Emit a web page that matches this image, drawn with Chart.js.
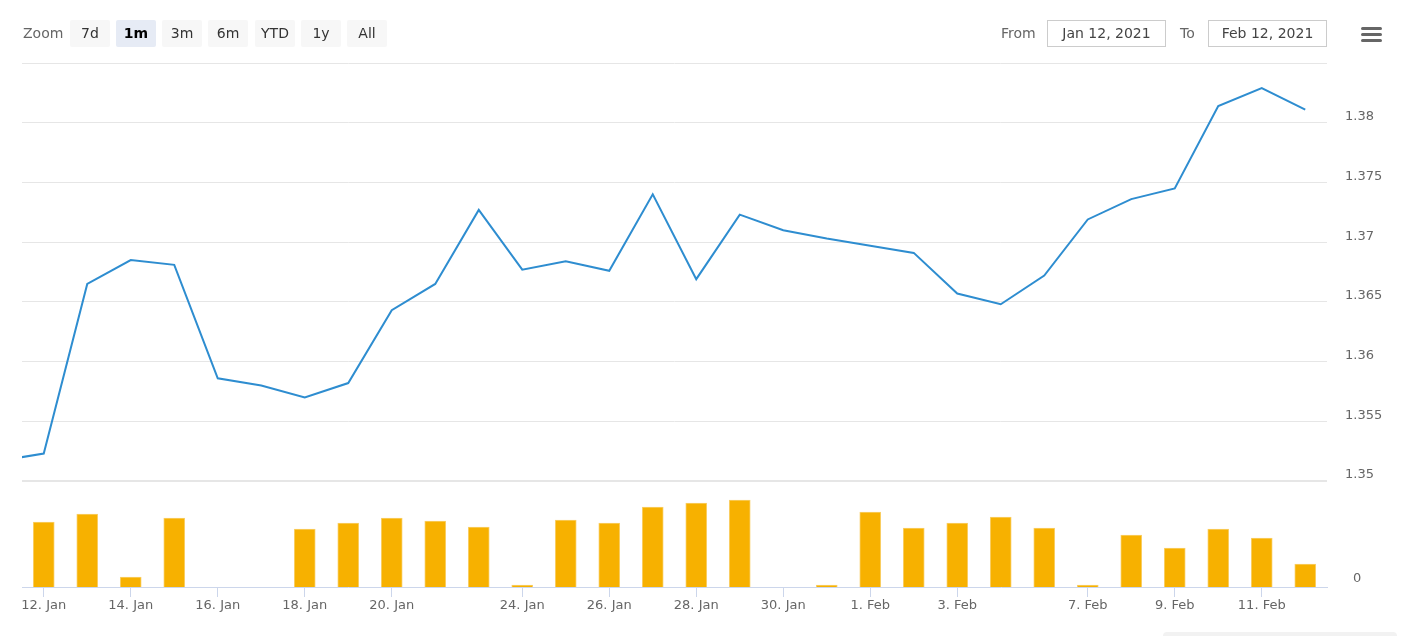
<!DOCTYPE html>
<html>
<head>
<meta charset="utf-8">
<script src="https://cdn.jsdelivr.net/npm/chart.js@4"></script>
<style>
  body { margin: 0; background: #fff; font-family: "DejaVu Sans", sans-serif; }
  #wrap { position: relative; width: 1404px; height: 636px; overflow: hidden; }
  #chart { position: absolute; left: 0; top: 0; }
  .lbl { position: absolute; top: 24px; font-size: 14px; color: #666; line-height: 18px; }
  .btn { position: absolute; top: 20px; width: 40px; height: 27px; background: #f7f7f7; color: #333;
         font-size: 14px; line-height: 27px; text-align: center; border-radius: 2px; }
  .btn.on { background: #e6ebf5; font-weight: bold; color: #000; }
  .box { position: absolute; top: 20px; height: 25px; border: 1px solid #ccc; font-size: 14px;
         line-height: 25px; color: #444; text-align: center; box-sizing: content-box; }
  .bar3 { position: absolute; left: 1361px; width: 21px; height: 3px; background: #666; border-radius: 2px; }
  #nav { position: absolute; left: 1163px; top: 632px; width: 234px; height: 10px; background: #f2f2f2; border-radius: 4px; }
</style>
</head>
<body>
<div id="wrap">
  <canvas id="chart" width="1404" height="636"></canvas>
  <div class="lbl" style="left:23px">Zoom</div>
  <div class="btn" style="left:70px">7d</div>
  <div class="btn on" style="left:116px">1m</div>
  <div class="btn" style="left:162px">3m</div>
  <div class="btn" style="left:208px">6m</div>
  <div class="btn" style="left:255px">YTD</div>
  <div class="btn" style="left:301px">1y</div>
  <div class="btn" style="left:347px">All</div>
  <div class="lbl" style="left:1001px">From</div>
  <div class="box" style="left:1047px;width:117px">Jan 12, 2021</div>
  <div class="lbl" style="left:1180px">To</div>
  <div class="box" style="left:1208px;width:117px">Feb 12, 2021</div>
  <div class="bar3" style="top:27px"></div>
  <div class="bar3" style="top:33px"></div>
  <div class="bar3" style="top:39px"></div>
  <div id="nav"></div>
</div>
<script>
// trading days shown on the ordinal axis (first one sits just left of the plot)
const categories = [
  "11. Jan", "12. Jan", "13. Jan", "14. Jan", "15. Jan", "16. Jan", "17. Jan", "18. Jan",
  "19. Jan", "20. Jan", "21. Jan", "22. Jan", "24. Jan", "25. Jan", "26. Jan", "27. Jan",
  "28. Jan", "29. Jan", "30. Jan", "31. Jan", "1. Feb", "2. Feb", "3. Feb", "4. Feb",
  "5. Feb", "7. Feb", "8. Feb", "9. Feb", "10. Feb", "11. Feb", "12. Feb"
];
const priceValues = [
  1.3517, 1.3523, 1.3665, 1.3685, 1.3681, 1.3586, 1.3580, 1.3570,
  1.3582, 1.3643, 1.3665, 1.3727, 1.3677, 1.3684, 1.3676, 1.3740,
  1.3669, 1.3723, 1.3710, 1.3703, 1.3697, 1.3691, 1.3657, 1.3648,
  1.3672, 1.3719, 1.3736, 1.3745, 1.3814, 1.3829, 1.3811
];
const volumeValues = [
  null, 65, 73, 10, 69, 0, 0, 58,
  64, 69, 66, 60, 2, 67, 64, 80,
  84, 87, 0, 2, 75, 59, 64, 70,
  59, 2, 52, 39, 58, 49, 23
];
const tickLabels = [
  "12. Jan", "14. Jan", "16. Jan", "18. Jan", "20. Jan", "24. Jan", "26. Jan",
  "28. Jan", "30. Jan", "1. Feb", "3. Feb", "7. Feb", "9. Feb", "11. Feb"
];
const priceTicks = [1.35, 1.355, 1.36, 1.365, 1.37, 1.375, 1.38, 1.385];

// ordinal position: 12. Jan is 0
const pos = i => i - 1;
const linePoints = priceValues.map((v, i) => ({ x: pos(i), y: v }));
const barPoints = volumeValues.map((v, i) => ({ x: pos(i), y: v })).filter(p => p.y !== null);

const labelFont = { family: "'DejaVu Sans', sans-serif", size: 13 };

new Chart(document.getElementById("chart"), {
  data: {
    datasets: [
      {
        type: "line",
        data: linePoints,
        yAxisID: "price",
        borderColor: "#2e8dd0",
        borderWidth: 2,
        pointRadius: 0,
        tension: 0
      },
      {
        type: "bar",
        data: barPoints,
        yAxisID: "volume",
        backgroundColor: "#f7b100",
        borderColor: "#f9d06a",
        borderWidth: 1,
        barThickness: 21
      }
    ]
  },
  options: {
    responsive: false,
    animation: false,
    layout: { padding: { top: 63, left: 22, right: 0, bottom: 0 } },
    plugins: { legend: { display: false }, tooltip: { enabled: false } },
    scales: {
      x: {
        type: "linear",
        offset: false,
        min: -0.5,
        max: 29.5,
        afterBuildTicks: s => {
          s.ticks = tickLabels.map(t => ({ value: pos(categories.indexOf(t)) }));
        },
        afterFit: s => { s.height = 49; },
        ticks: {
          autoSkip: false,
          maxRotation: 0,
          padding: 1,
          color: "#666",
          font: labelFont,
          callback: v => categories[v + 1]
        },
        grid: {
          offset: false,
          drawOnChartArea: false,
          drawTicks: true,
          tickLength: 10,
          tickWidth: 1,
          tickColor: "#ccd6eb",
          color: "#ccd6eb"
        },
        border: { display: true, color: "#ccd6eb", width: 1 }
      },
      price: {
        type: "linear",
        position: "right",
        stack: "panes",
        stackWeight: 418,
        min: 1.35,
        max: 1.385,
        afterBuildTicks: s => { s.ticks = priceTicks.map(v => ({ value: v })); },
        afterFit: s => { s.width = 77; },
        ticks: {
          color: "#666",
          font: labelFont,
          padding: 18,
          labelOffset: -6,
          callback: v => (v > 1.384 ? "" : String(Number(v.toFixed(3))))
        },
        grid: {
          drawTicks: false,
          color: "#e6e6e6",
          lineWidth: c => (c.tick && c.tick.value === 1.35 ? 2 : 1)
        },
        border: { display: false }
      },
      volume: {
        type: "linear",
        position: "right",
        stack: "panes",
        stackWeight: 106,
        min: 0,
        max: 106,
        afterBuildTicks: s => { s.ticks = [{ value: 0 }]; },
        afterFit: s => { s.width = 77; },
        ticks: { color: "#666", font: labelFont, padding: 18, labelOffset: -8 },
        grid: { display: false },
        border: { display: false }
      }
    }
  }
});
</script>
</body>
</html>
